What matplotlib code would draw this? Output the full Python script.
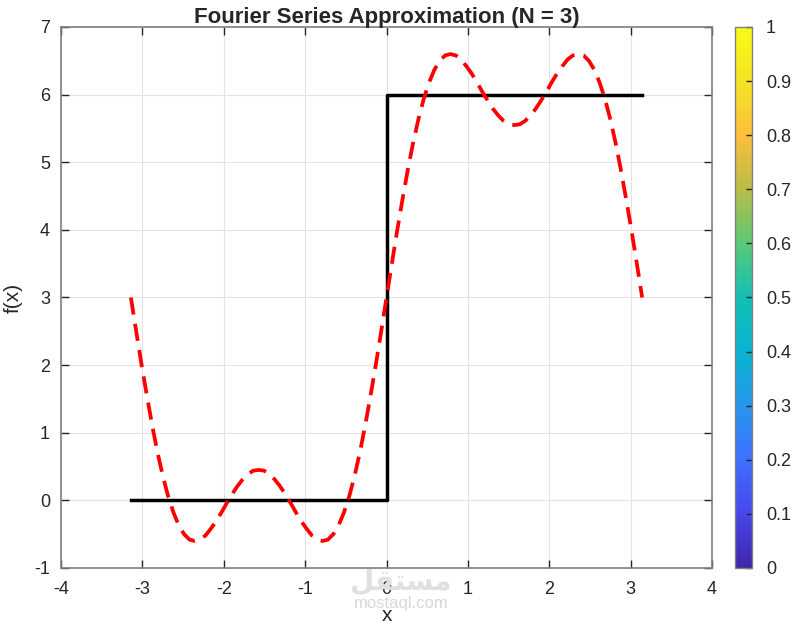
import numpy as np
import matplotlib
matplotlib.use("Agg")
import matplotlib.pyplot as plt
from matplotlib.colors import LinearSegmentedColormap
import matplotlib as mpl

plt.rcParams['font.family'] = ['Liberation Sans', 'DejaVu Sans']
plt.rcParams['axes.unicode_minus'] = False

# ---- data ----
step_x = [-3.1416, 0.0, 0.0, 3.1416]
step_y = [0.0, 0.0, 6.0, 6.0]

approx_x = list(np.round(np.linspace(-3.1416, 3.1416, 97), 4))
approx_y = [3.00, 2.50, 2.01, 1.55, 1.11, 0.71, 0.36, 0.06, -0.18, -0.37,
            -0.50, -0.58, -0.60, -0.58, -0.52, -0.42, -0.31, -0.18, -0.04, 0.09,
            0.21, 0.31, 0.39, 0.44, 0.45, 0.44, 0.39, 0.31, 0.21, 0.09,
            -0.04, -0.18, -0.31, -0.42, -0.52, -0.58, -0.60, -0.58, -0.50, -0.37,
            -0.18, 0.06, 0.36, 0.71, 1.11, 1.55, 2.01, 2.50,
            3.00, 3.50, 3.99, 4.45, 4.89, 5.29, 5.64, 5.94, 6.18, 6.37,
            6.50, 6.58, 6.60, 6.58, 6.52, 6.42, 6.31, 6.18, 6.04, 5.91,
            5.79, 5.69, 5.61, 5.56, 5.55, 5.56, 5.61, 5.69, 5.79, 5.91,
            6.04, 6.18, 6.31, 6.42, 6.52, 6.58, 6.60, 6.58, 6.50, 6.37,
            6.18, 5.94, 5.64, 5.29, 4.89, 4.45, 3.99, 3.50, 3.00]

x_ticks = [-4, -3, -2, -1, 0, 1, 2, 3, 4]
y_ticks = [-1, 0, 1, 2, 3, 4, 5, 6, 7]
cbar_ticks = [0, 0.1, 0.2, 0.3, 0.4, 0.5, 0.6, 0.7, 0.8, 0.9, 1]
cbar_labels = ['0', '0.1', '0.2', '0.3', '0.4', '0.5', '0.6', '0.7', '0.8', '0.9', '1']

parula_pts = [0.0, 0.1, 0.2, 0.3, 0.4, 0.5, 0.6, 0.7, 0.8, 0.9, 1.0]
parula_rgb = [(0.2422, 0.1504, 0.6603), (0.2803, 0.2782, 0.9221),
              (0.2440, 0.4358, 0.9988), (0.1540, 0.5902, 0.9218),
              (0.0297, 0.7082, 0.8163), (0.0704, 0.7482, 0.7109),
              (0.3600, 0.7860, 0.4700), (0.7184, 0.7427, 0.2802),
              (0.9956, 0.7434, 0.2371), (0.9598, 0.8941, 0.1345),
              (0.9769, 0.9839, 0.0805)]
parula = LinearSegmentedColormap.from_list('parula', list(zip(parula_pts, parula_rgb)))

# ---- figure ----
fig = plt.figure(figsize=(8.05, 6.25), dpi=100)
ax = fig.add_axes([0.0758, 0.0912, 0.8087, 0.8656])

ax.plot(step_x, step_y, color='black', lw=2.5, zorder=3)
ax.plot(approx_x, approx_y, color='red', lw=2.7, dashes=(4.6, 2.5), zorder=4)

ax.set_xlim(-4, 4)
ax.set_ylim(-1, 7)
ax.set_xticks(x_ticks)
ax.set_yticks(y_ticks)
ax.grid(True, color='#e3e3e3', lw=0.8)
ax.set_axisbelow(True)
for s in ax.spines.values():
    s.set_color('#808080')
    s.set_linewidth(1.2)
ax.tick_params(direction='in', length=6, width=1, color='#262626',
               labelsize=13, labelcolor='#262626', top=True, right=True)
ax.tick_params(axis='x', pad=9)
ax.tick_params(axis='y', pad=8)

ax.set_title('Fourier Series Approximation (N = 3)', fontsize=16, fontweight='bold',
             color='#262626', pad=3)
ax.set_xlabel('x', fontsize=15, color='#262626', labelpad=6)
ax.set_ylabel('f(x)', fontsize=15, color='#262626', labelpad=8)

# colorbar
cax = fig.add_axes([0.913, 0.0912, 0.021, 0.8656])
cb = fig.colorbar(mpl.cm.ScalarMappable(norm=mpl.colors.Normalize(0, 1), cmap=parula), cax=cax)
cb.set_ticks(cbar_ticks)
cb.set_ticklabels(cbar_labels)
cb.outline.set_edgecolor('#808080')
cb.outline.set_linewidth(1.0)
cax.tick_params(direction='in', length=4, width=1, color='#262626',
                labelsize=13, labelcolor='#262626', pad=10)

# watermark
fig.text(0.498, 0.069, '\uFEDE\uFED8\uFE98\uFEB4\uFEE3', fontsize=20, fontweight='bold',
         color='#e0e0e0', ha='center', va='center', family='DejaVu Sans', zorder=0)
fig.text(0.498, 0.035, 'mostaql.com', fontsize=12, color='#d8d8d8',
         ha='center', va='center', zorder=0)

fig.savefig('out.png', dpi=100)
